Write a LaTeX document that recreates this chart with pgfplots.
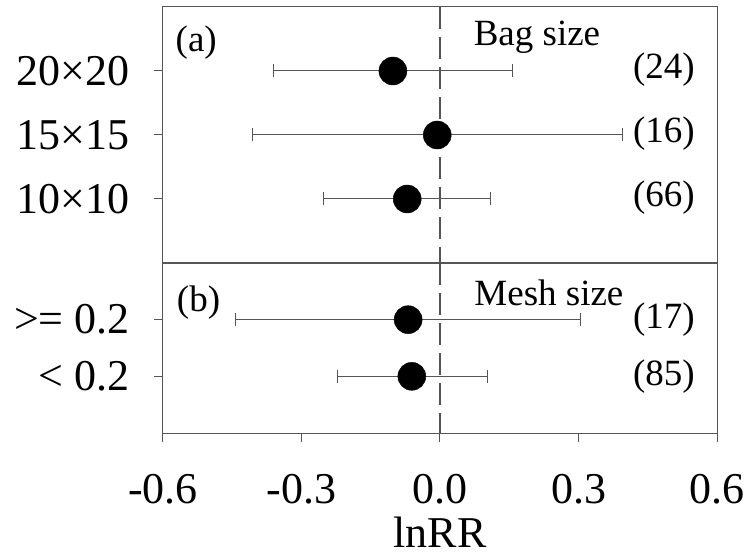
\documentclass[border=0pt]{standalone}
\usepackage{pgfplots}
\pgfplotsset{compat=1.18}
\usepackage{fontspec}
\setmainfont{Liberation Serif}
\newcommand\fA{\fontsize{44bp}{50bp}\selectfont}
\newcommand\fB{\fontsize{37bp}{42bp}\selectfont}
\definecolor{fr}{HTML}{555555}
\begin{document}
\begin{tikzpicture}
\pgfplotsset{
  common/.style={
    scale only axis, width=554bp, xmin=-0.6, xmax=0.6,
    axis line style={fr, line width=1bp},
    tick style={fr, line width=1bp},
    major tick length=9bp, tick align=outside,
    ytick pos=left,
    yticklabel style={font=\fA, inner sep=2bp, xshift=-22bp},
    xticklabel style={font=\fA},
    clip=false,
  },
  dot/.style={only marks, mark=*, mark size=14bp, black,
    error bars/.cd, x dir=both, x explicit,
    error bar style={fr, line width=1bp},
    error mark=|,
    error mark options={fr, line width=1bp, mark size=6.5bp}},
  zero/.style={fr, line width=1.1bp, dash pattern=on 22bp off 8bp},
}
\begin{axis}[common, name=a, at={(0,170bp)}, anchor=south west,
  height=256bp, ymin=0, ymax=4, xtick=\empty,
  ytick={1,2,3}, yticklabels={10×10,15×15,20×20}]
  \addplot[zero] coordinates {(0,4) (0,0)};
  \addplot[dot] coordinates {
    (-0.102,3) += (0.258,0) -= (0.258,0)
    (-0.006,2) += (0.402,0) -= (0.401,0)
    (-0.071,1) += (0.181,0) -= (0.182,0)
  };
  \node[font=\fB] at (axis cs:-0.528,3.45) {(a)};
  \node[font=\fB] at (axis cs:0.21,3.53) {Bag size};
  \node[font=\fB] at (axis cs:0.485,3.02) {(24)};
  \node[font=\fB] at (axis cs:0.485,2.02) {(16)};
  \node[font=\fB] at (axis cs:0.485,1.02) {(66)};
\end{axis}
\begin{axis}[common, name=b, at={(0,0)}, anchor=south west,
  height=170bp, ymin=0, ymax=3,
  xtick={-0.6,-0.3,0,0.3,0.6}, xticklabels={-0.6,-0.3,0.0,0.3,0.6},
  xtick pos=bottom,
  xticklabel style={font=\fA, yshift=-29bp},
  xlabel={lnRR}, xlabel style={font=\fA, yshift=-9bp, inner sep=0pt},
  ytick={1,2}, yticklabels={< 0.2,>= 0.2}]
  \addplot[zero] coordinates {(0,3) (0,0)};
  \addplot[dot] coordinates {
    (-0.069,2) += (0.374,0) -= (0.373,0)
    (-0.061,1) += (0.163,0) -= (0.162,0)
  };
  \node[font=\fB] at (axis cs:-0.523,2.3) {(b)};
  \node[font=\fB] at (axis cs:0.236,2.47) {Mesh size};
  \node[font=\fB] at (axis cs:0.485,2) {(17)};
  \node[font=\fB] at (axis cs:0.485,1) {(85)};
\end{axis}
\path[use as bounding box] (-163bp,-123bp) rectangle (593bp,433bp);
\end{tikzpicture}
\end{document}
